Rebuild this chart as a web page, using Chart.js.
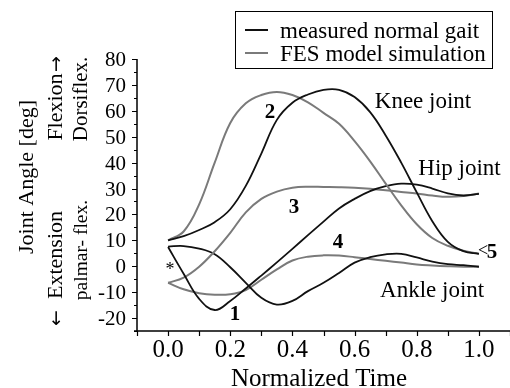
<!DOCTYPE html>
<html>
<head>
<meta charset="utf-8">
<script src="https://cdn.jsdelivr.net/npm/chart.js@4.4.1/dist/chart.umd.min.js"></script>
<style>
  html, body { margin: 0; padding: 0; background: #fff; }
  #wrap { position: relative; width: 510px; height: 388px; }
</style>
</head>
<body>
<div id="wrap"><canvas id="chart"></canvas></div>
<script>
// normalized time of the gait cycle
const time = [0, 0.05, 0.1, 0.15, 0.2, 0.25, 0.3, 0.35, 0.4, 0.45, 0.5,
  0.55, 0.6, 0.65, 0.7, 0.75, 0.8, 0.85, 0.9, 0.95, 1];

// joint angles [deg]
const kneeMeasured = [10, 11.6, 14, 17, 22, 31, 43.5, 56.5, 63.1, 66.3, 68.1,
  68.1, 65.3, 59.5, 50.5, 40, 28.5, 17.4, 9.4, 5.8, 4.8];
const kneeModel = [10, 13.4, 23.9, 40, 55.3, 62.9, 66.1, 67.3, 66.1, 63.3, 59.2,
  55, 48.3, 40.5, 31.9, 23.5, 16.2, 10.9, 7.9, 6, 4.8];
const hipMeasured = [7.4, -2.9, -12.6, -16.9, -13.4, -8.6, -3.6, 1.5, 6.7, 12, 17.2,
  22.3, 26, 29, 30.9, 31.9, 31.5, 30, 28.1, 27.3, 27.9];
const hipModel = [-6.4, -4.4, -0.2, 5.8, 12.9, 20.8, 26, 28.8, 30.3, 30.7, 30.6,
  30.5, 30.3, 29.9, 29.3, 28.7, 28.1, 27.3, 26.8, 27.1, 28.1];
const ankleMeasured = [7.6, 7.8, 6.8, 4.6, -0.4, -6.4, -12.2, -14.8, -13.4, -9.6, -6.4,
  -2.6, 1.4, 3.5, 4.6, 4.8, 3.4, 1.8, 0.8, 0.4, -0.2];
const ankleModel = [-6.4, -8.9, -10.4, -11, -10.8, -9.2, -5.2, -1.2, 2.2, 3.7, 4.2,
  4.1, 3.5, 2.8, 2.1, 1.4, 0.7, 0.3, 0, -0.2, -0.2];

const xTicks = [0, 0.2, 0.4, 0.6, 0.8, 1.0];
const xTickLabels = ["0.0", "0.2", "0.4", "0.6", "0.8", "1.0"];
const yTicks = [-20, -10, 0, 10, 20, 30, 40, 50, 60, 70, 80];

const legendLabels = ["measured normal gait", "FES model simulation"];

// text put on the plot, anchored in data units
const notes = [
  { text: "Knee joint", x: 0.665, y: 60.9, align: "left" },
  { text: "Hip joint", x: 0.805, y: 35.2, align: "left" },
  { text: "Ankle joint", x: 0.682, y: -11.9, align: "left" },
  { text: "1", x: 0.215, y: -20.9, bold: true },
  { text: "2", x: 0.328, y: 57.2, bold: true },
  { text: "3", x: 0.405, y: 20.5, bold: true },
  { text: "4", x: 0.547, y: 6.9, bold: true },
  { text: "5", x: 1.042, y: 3.1, bold: true },
  { text: "<", x: 0.997, y: 3.9, align: "left", size: 18 },
  { text: "*", x: 0.006, y: -3.5, size: 18 },
];

const BLACK = "#111111";
const GRAY = "#7a7a7a";
const SERIF = '"Liberation Serif", "Times New Roman", serif';
const ARROW = '"DejaVu Sans", sans-serif';

const toPoints = (values) => time.map((t, i) => ({ x: t, y: values[i] }));

const line = (values, color, width) => ({
  data: toPoints(values),
  borderColor: color,
  borderWidth: width,
  pointRadius: 0,
  fill: false,
  tension: 0.4,
});

function vText(ctx, text, px, py, font) {
  ctx.save();
  ctx.translate(px, py);
  ctx.rotate(-Math.PI / 2);
  ctx.font = font;
  ctx.textAlign = "center";
  ctx.textBaseline = "alphabetic";
  ctx.fillText(text, 0, 0);
  ctx.restore();
}

const decor = {
  id: "decor",
  afterDraw(chart) {
    const { ctx, chartArea: a, scales: { x, y } } = chart;
    ctx.save();
    ctx.strokeStyle = "#000";
    ctx.fillStyle = "#000";

    // axes
    ctx.lineWidth = 1.5;
    ctx.beginPath();
    ctx.moveTo(a.left, a.top);
    ctx.lineTo(a.left, a.bottom);
    ctx.moveTo(a.left - 3, a.bottom);
    ctx.lineTo(a.right, a.bottom);
    ctx.stroke();

    // tick marks
    ctx.lineWidth = 1.2;
    ctx.beginPath();
    for (let i = -1; i <= 11; i++) {
      const px = Math.round(x.getPixelForValue(i / 10)) + 0.5;
      ctx.moveTo(px, a.bottom);
      ctx.lineTo(px, a.bottom + 5);
    }
    for (let v = -25; v <= 80; v += 5) {
      const py = Math.round(y.getPixelForValue(v)) + 0.5;
      const len = v % 10 === 0 ? 5 : 3;
      ctx.moveTo(a.left - len, py);
      ctx.lineTo(a.left, py);
    }
    ctx.stroke();

    // tick labels
    ctx.font = `25px ${SERIF}`;
    ctx.textAlign = "center";
    ctx.textBaseline = "alphabetic";
    xTicks.forEach((v, i) => {
      ctx.fillText(xTickLabels[i], x.getPixelForValue(v), a.bottom + 26);
    });
    ctx.font = `21px ${SERIF}`;
    ctx.textAlign = "right";
    yTicks.forEach((v) => {
      ctx.fillText(String(v), a.left - 11, y.getPixelForValue(v) + 7);
    });

    // axis titles
    ctx.font = `25px ${SERIF}`;
    ctx.textAlign = "center";
    ctx.fillText("Normalized Time", 319, 386);
    vText(ctx, "Joint Angle [deg]", 33, 177, `22px ${SERIF}`);
    vText(ctx, "Flexion", 62, 107, `22px ${SERIF}`);
    vText(ctx, "\u2192", 62, 64, `19px ${ARROW}`);
    vText(ctx, "Extension", 62, 255, `22px ${SERIF}`);
    vText(ctx, "\u2190", 62, 318, `19px ${ARROW}`);
    vText(ctx, "Dorsiflex.", 87, 99, `21px ${SERIF}`);
    vText(ctx, "palmar- flex.", 87, 250, `19.5px ${SERIF}`);

    // notes on the curves
    notes.forEach((n) => {
      const size = n.size || (n.bold ? 21 : 23);
      ctx.font = `${n.bold ? "bold " : ""}${size}px ${SERIF}`;
      ctx.textAlign = n.align || "center";
      ctx.fillText(n.text, x.getPixelForValue(n.x), y.getPixelForValue(n.y));
    });

    // legend box
    ctx.lineWidth = 1;
    ctx.strokeRect(235.5, 11.5, 257, 57);
    const ds = chart.data.datasets;
    [ds[0], ds[1]].forEach((d, i) => {
      const py = 30 + i * 23;
      ctx.strokeStyle = d.borderColor;
      ctx.lineWidth = 2;
      ctx.beginPath();
      ctx.moveTo(245, py);
      ctx.lineTo(268, py);
      ctx.stroke();
      ctx.font = `23px ${SERIF}`;
      ctx.textAlign = "left";
      ctx.fillText(legendLabels[i], 280, py + 8);
    });
    ctx.restore();
  },
};

new Chart(document.getElementById("chart"), {
  type: "line",
  data: {
    datasets: [
      line(kneeMeasured, BLACK, 1.8),
      line(kneeModel, GRAY, 2),
      line(hipMeasured, BLACK, 1.8),
      line(hipModel, GRAY, 2),
      line(ankleMeasured, BLACK, 1.8),
      line(ankleModel, GRAY, 2),
    ],
  },
  options: {
    responsive: true,
    maintainAspectRatio: false,
    animation: false,
    layout: {
      padding: { left: 137, top: 59, right: 0, bottom: 57 },
    },
    scales: {
      x: { type: "linear", min: -0.1, max: 1.1, display: false },
      y: { type: "linear", min: -25, max: 80, display: false },
    },
    plugins: {
      legend: { display: false },
      tooltip: { enabled: false },
    },
  },
  plugins: [decor],
});
</script>
</body>
</html>
